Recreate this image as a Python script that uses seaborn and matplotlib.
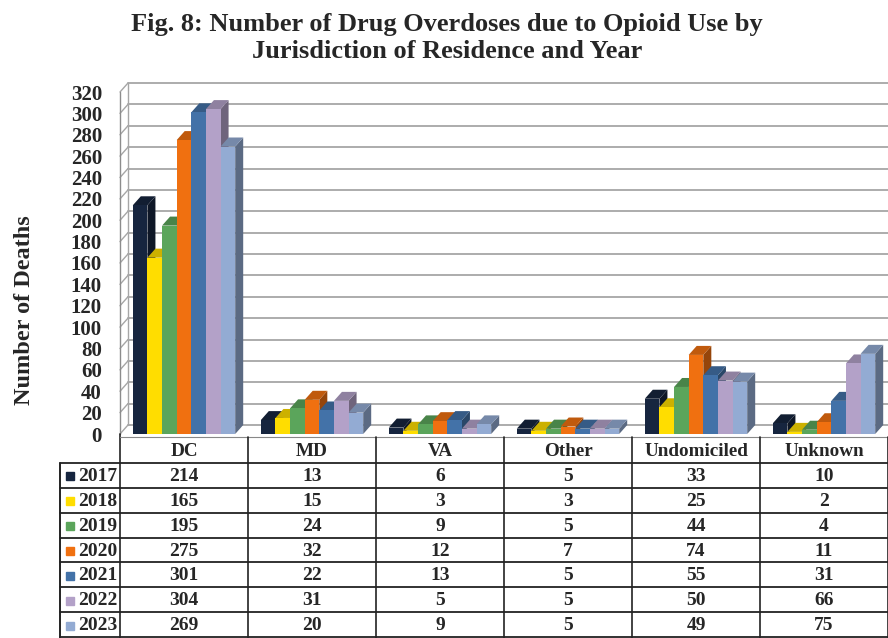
import numpy as np
import pandas as pd
import matplotlib
matplotlib.use("Agg")
import matplotlib.pyplot as plt
import matplotlib.colors as mcolors
from matplotlib.patches import Polygon
import seaborn as sns

# data
places = ["DC", "MD", "VA", "Other", "Undomiciled", "Unknown"]
years = ["2017", "2018", "2019", "2020", "2021", "2022", "2023"]
d2017 = [214, 13, 6, 5, 33, 10]
d2018 = [165, 15, 3, 3, 25, 2]
d2019 = [195, 24, 9, 5, 44, 4]
d2020 = [275, 32, 12, 7, 74, 11]
d2021 = [301, 22, 13, 5, 55, 31]
d2022 = [304, 31, 5, 5, 50, 66]
d2023 = [269, 20, 9, 5, 49, 75]
colors = ["#16253f", "#ffdd00", "#5ba55b", "#f07010", "#4372a8", "#b3a1c8", "#93abd3"]
yticks = list(range(0, 321, 20))

rows = [d2017, d2018, d2019, d2020, d2021, d2022, d2023]
df = pd.DataFrame(rows, index=years, columns=places)
long = df.reset_index(names="Year").melt(id_vars="Year", var_name="Place", value_name="Deaths")

sns.set_theme(style="white")
plt.rcParams["font.family"] = ["Liberation Serif", "DejaVu Serif"]
plt.rcParams["font.weight"] = "bold"

W, H = 888, 638
fig = plt.figure(figsize=(W / 100, H / 100), dpi=100)
ax = fig.add_axes([120 / W, 1 - 434 / H, 768 / W, 342 / H])
ax.patch.set_alpha(0)

sns.barplot(data=long, x="Place", y="Deaths", hue="Year", order=places, hue_order=years,
            palette=colors, saturation=1, width=0.8, linewidth=0, legend=False, ax=ax)
ax.set_xlim(-0.5, 5.5)
ax.set_ylim(0, 320)

# 3d depth offset in pixels -> data units
DX_PX, DY_PX = 8, 9
p0 = ax.transData.transform((0, 0))
dx, dy = ax.transData.inverted().transform(p0 + np.array([DX_PX, DY_PX]))
grid_col = "#a6a6a6"

# back wall grid, left wall diagonals
for v in yticks:
    ax.plot([-0.5 + dx, 5.5 + 2 * dx], [v + dy, v + dy], color=grid_col, lw=1.3, zorder=1, clip_on=False)
    ax.plot([-0.5, -0.5 + dx], [v, v + dy], color=grid_col, lw=1.0, zorder=1, clip_on=False)
ax.plot([-0.5 + dx, -0.5 + dx], [dy, 320 + dy], color=grid_col, lw=1.0, zorder=1, clip_on=False)
ax.plot([-0.5, -0.5], [0, 320], color="#8c8c8c", lw=1.0, zorder=1, clip_on=False)

# side and top faces for the bars
bars = sorted([p for p in ax.patches if p.get_width() > 0], key=lambda p: p.get_x())
for k, p in enumerate(bars):
    x, w, h = p.get_x(), p.get_width(), p.get_height()
    rgb = np.array(mcolors.to_rgb(p.get_facecolor()))
    side = Polygon([(x + w, 0), (x + w + dx, dy), (x + w + dx, h + dy), (x + w, h)],
                   closed=True, facecolor=rgb * 0.62, edgecolor="none", zorder=3 + 2 * k, clip_on=False)
    top = Polygon([(x, h), (x + w, h), (x + w + dx, h + dy), (x + dx, h + dy)],
                  closed=True, facecolor=rgb * 0.8, edgecolor="none", zorder=3 + 2 * k, clip_on=False)
    ax.add_patch(side)
    ax.add_patch(top)
    p.set_zorder(4 + 2 * k)
    p.set_clip_on(False)

for s in ax.spines.values():
    s.set_visible(False)
ax.set_xticks([])
ax.set_xlabel("")
ax.set_ylabel("")
ax.set_yticks(yticks)
ax.set_yticklabels([str(v) for v in yticks], fontsize=15, fontweight="bold")
ax.tick_params(axis="y", length=0, pad=13)

fig.text(447 / W, 1 - 38 / H, "Fig. 8: Number of Drug Overdoses due to Opioid Use by\nJurisdiction of Residence and Year",
         ha="center", va="center", fontsize=19, fontweight="bold", linespacing=1.25)
fig.text(25 / W, 1 - 310 / H, "Number of Deaths", rotation=90, ha="center", va="center",
         fontsize=17.5, fontweight="bold")

# data table below the chart
tax = fig.add_axes([0, 0, 1, 1])
tax.set_xlim(0, W)
tax.set_ylim(H, 0)
tax.axis("off")
tax.patch.set_alpha(0)

col_x = [120 + 128 * i for i in range(7)]
head_top, head_bot = 437, 463
row_h = (H - 1 - head_bot) / len(years)
row_y = [head_bot + row_h * i for i in range(len(years) + 1)]
lc = "#222222"

tax.plot([120, 120], [434, H], color=lc, lw=1.2)
tax.plot([120, W], [head_top, head_top], color="#888888", lw=0.8)
for cx in col_x[1:]:
    tax.plot([cx, cx], [head_top, H], color=lc, lw=1.2)
tax.plot([60, 60], [head_bot, H], color=lc, lw=1.4)
for ry in row_y:
    tax.plot([60, W], [ry, ry], color=lc, lw=1.3)

for i, name in enumerate(places):
    tax.text(col_x[i] + 64, (head_top + head_bot) / 2 + 1, name, ha="center", va="center",
             fontsize=13.8, fontweight="bold")

for r, yr in enumerate(years):
    cy = (row_y[r] + row_y[r + 1]) / 2 + 1
    tax.plot([70], [cy], marker="s", markersize=6, color=colors[r], linestyle="none")
    tax.text(78, cy, yr, ha="left", va="center", fontsize=14, fontweight="bold")
    for i in range(len(places)):
        tax.text(col_x[i] + 64, cy, str(rows[r][i]), ha="center", va="center",
                 fontsize=14, fontweight="bold")

fig.savefig("out.png", dpi=100)
